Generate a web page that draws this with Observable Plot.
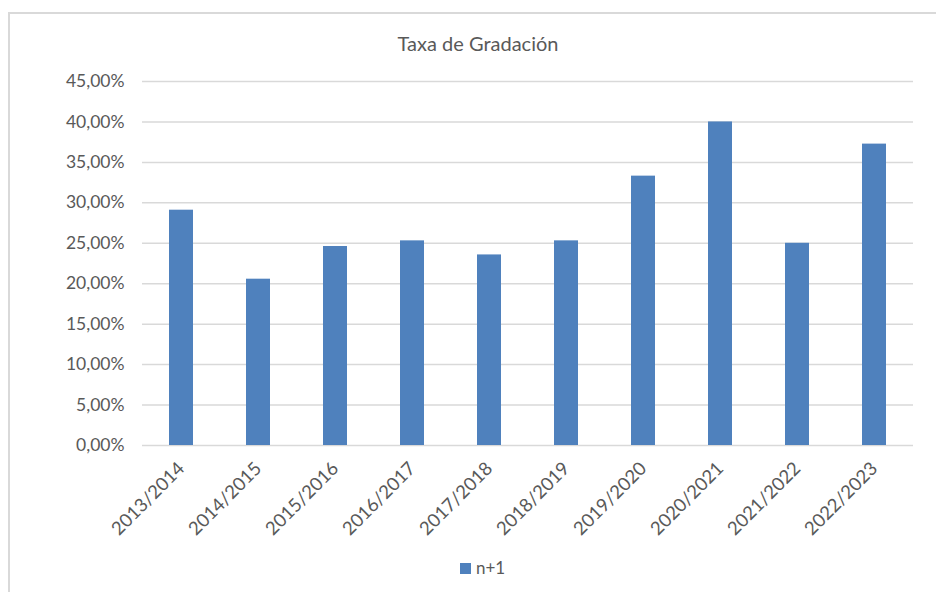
<!DOCTYPE html>
<html>
<head>
<meta charset="utf-8">
<script src="https://cdn.jsdelivr.net/npm/d3@7"></script>
<script src="https://cdn.jsdelivr.net/npm/@observablehq/plot@0.6"></script>
<style>
  html, body { margin: 0; padding: 0; background: #fff; width: 936px; height: 592px; overflow: hidden; }
  #wrap { position: relative; width: 936px; height: 592px; font-family: Lato, "Open Sans", sans-serif; color: #595959; }
  #frame { position: absolute; left: 8px; top: 12px; width: 1000px; height: 700px; border-left: 2px solid #d9d9d9; border-top: 2px solid #d9d9d9; }
  #title { position: absolute; left: 0; width: 956px; top: 31px; text-align: center; font-size: 20px; line-height: 24px; }
  #chart { position: absolute; left: 0; top: 0; }
  #legend { position: absolute; left: 460px; top: 558px; font-size: 17px; line-height: 20px; display: flex; align-items: center; }
  #legend .sw { width: 11px; height: 11px; background: #4f81bd; margin-right: 5px; }
</style>
</head>
<body>
<div id="wrap">
  <div id="frame"></div>
  <div id="chart"></div>
  <div id="title">Taxa de Gradación</div>
  <div id="legend"><span class="sw"></span><span id="legtext"></span></div>
</div>
<script>
const title = "Taxa de Gradación";
const seriesName = "n+1";
const categories = ["2013/2014","2014/2015","2015/2016","2016/2017","2017/2018","2018/2019","2019/2020","2020/2021","2021/2022","2022/2023"];
const values = [0.2909, 0.2056, 0.2460, 0.2530, 0.2356, 0.2530, 0.3330, 0.4000, 0.2500, 0.3726];
const yTicks = [0, 0.05, 0.10, 0.15, 0.20, 0.25, 0.30, 0.35, 0.40, 0.45];

const data = categories.map((c, i) => ({cat: c, value: values[i]}));
const fmt = d => (d * 100).toFixed(2).replace(".", ",") + "%";

document.getElementById("title").textContent = title;
document.getElementById("legtext").textContent = seriesName;

const chart = Plot.plot({
  width: 936,
  height: 592,
  marginLeft: 142,
  marginRight: 23,
  marginTop: 81,
  marginBottom: 147,
  style: {fontFamily: "Lato, 'Open Sans', sans-serif", fontSize: "17px", color: "#595959", background: "transparent", overflow: "visible"},
  x: {domain: categories, paddingInner: 0.69, paddingOuter: 0.345, label: null},
  y: {domain: [0, 0.45], label: null},
  marks: [
    Plot.gridY(yTicks, {stroke: "#d9d9d9", strokeOpacity: 1, strokeWidth: 1.5}),
    Plot.barY(data, {x: "cat", y: "value", fill: "#4f81bd"}),
    Plot.axisY(yTicks, {tickSize: 0, tickPadding: 18, tickFormat: fmt, fill: "#595959", fontSize: 17.5, label: null}),
    Plot.axisX({tickSize: 0, tickRotate: -45, tickPadding: 20, fill: "#595959", fontSize: 18.5, label: null})
  ]
});
document.getElementById("chart").appendChild(chart);
</script>
</body>
</html>
